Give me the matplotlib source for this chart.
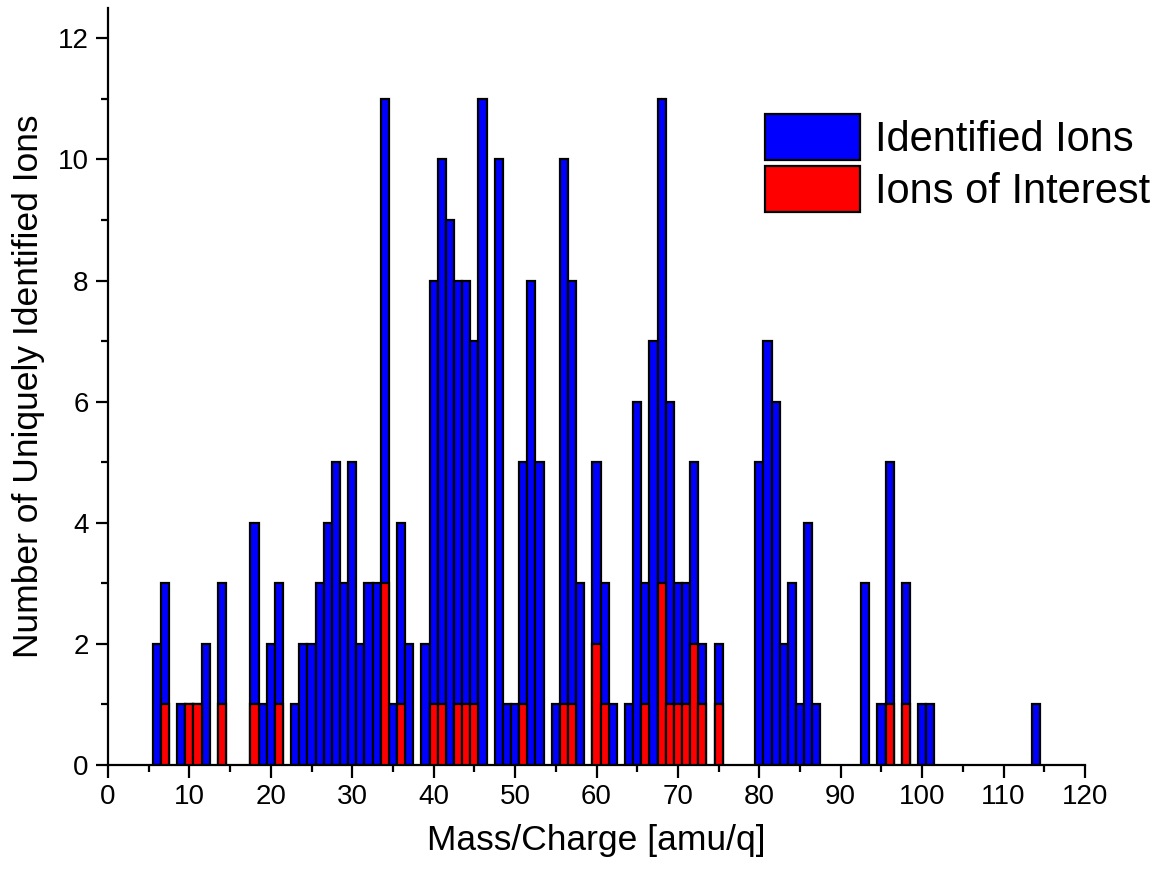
import matplotlib
matplotlib.use("Agg")
import matplotlib.pyplot as plt
from matplotlib.patches import Patch
from matplotlib.ticker import MultipleLocator

plt.rcParams['font.family'] = ['Liberation Sans', 'DejaVu Sans']

mass = [6, 7, 9, 10, 11, 12, 14, 18, 19, 20, 21, 23, 24, 25, 26, 27, 28, 29, 30,
        31, 32, 33, 34, 35, 36, 37, 39, 40, 41, 42, 43, 44, 45, 46, 48, 49, 50,
        51, 52, 53, 55, 56, 57, 58, 60, 61, 62, 64, 65, 66, 67, 68, 69, 70, 71,
        72, 73, 75, 80, 81, 82, 83, 84, 85, 86, 87, 93, 95, 96, 98, 100, 101, 114]
identified = [2, 3, 1, 1, 1, 2, 3, 4, 1, 2, 3, 1, 2, 2, 3, 4, 5, 3, 5,
              2, 3, 3, 11, 1, 4, 2, 2, 8, 10, 9, 8, 8, 7, 11, 10, 1, 1,
              5, 8, 5, 1, 10, 8, 3, 5, 3, 1, 1, 6, 3, 7, 11, 6, 3, 3,
              5, 2, 2, 5, 7, 6, 2, 3, 1, 4, 1, 3, 1, 5, 3, 1, 1, 1]
interest = [0, 1, 0, 1, 1, 0, 1, 1, 0, 0, 1, 0, 0, 0, 0, 0, 0, 0, 0,
            0, 0, 0, 3, 0, 1, 0, 0, 1, 1, 0, 1, 1, 1, 0, 0, 0, 0,
            1, 0, 0, 0, 1, 1, 0, 2, 1, 0, 0, 0, 1, 0, 3, 1, 1, 1,
            2, 1, 1, 0, 0, 0, 0, 0, 0, 0, 0, 0, 0, 1, 1, 0, 0, 0]

fig = plt.figure(figsize=(11.59, 8.73), dpi=100)
ax = fig.add_axes([108/1159, 1 - 765/873, (1085-108)/1159, (765-8)/873])

ax.bar(mass, identified, width=1.0, color='#0000ff', edgecolor='black', linewidth=1.6, zorder=2)
im = [m for m, r in zip(mass, interest) if r > 0]
iv = [r for r in interest if r > 0]
ax.bar(im, iv, width=1.0, color='#ff0000', edgecolor='black', linewidth=1.6, zorder=3)

ax.set_xlim(0, 120)
ax.set_ylim(0, 12.5)
ax.xaxis.set_major_locator(MultipleLocator(10))
ax.xaxis.set_minor_locator(MultipleLocator(5))
ax.yaxis.set_major_locator(MultipleLocator(2))
ax.yaxis.set_minor_locator(MultipleLocator(1))
ax.spines['top'].set_visible(False)
ax.spines['right'].set_visible(False)
for s in ('left', 'bottom'):
    ax.spines[s].set_linewidth(1.6)
ax.tick_params(which='major', direction='out', length=9, width=1.6, labelsize=20, pad=5)
ax.tick_params(which='minor', direction='out', length=5, width=1.6)

ax.set_xlabel('Mass/Charge [amu/q]', fontsize=25.5, labelpad=10)
ax.set_ylabel('Number of Uniquely Identified Ions', fontsize=25.5, labelpad=9)

handles = [Patch(facecolor='#0000ff', edgecolor='black', linewidth=1.6, label='Identified Ions'),
           Patch(facecolor='#ff0000', edgecolor='black', linewidth=1.6, label='Ions of Interest')]
fig.legend(handles=handles, loc='upper left', bbox_to_anchor=(765/1159, 1 - 114/873),
           frameon=False, fontsize=30, handlelength=2.28, handleheight=1.32,
           handletextpad=0.36, labelspacing=0.15, borderaxespad=0, borderpad=0)

fig.savefig('out.png', dpi=100)
